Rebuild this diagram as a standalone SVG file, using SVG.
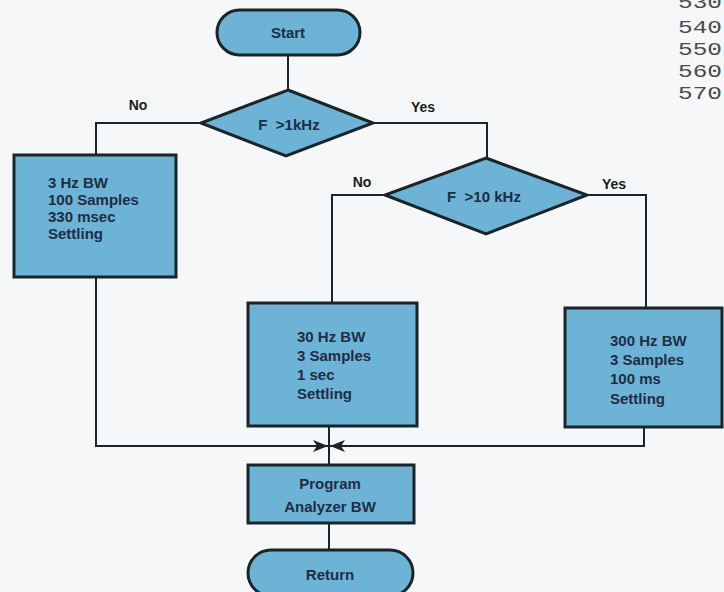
<svg xmlns="http://www.w3.org/2000/svg" width="724" height="592" viewBox="0 0 724 592">
<style>
.shape{fill:#6db3d5;stroke:#1b2529;stroke-width:3}
.conn{fill:none;stroke:#1b2529;stroke-width:2}
.t{font-family:"Liberation Sans",Arial,sans-serif;font-weight:bold;font-size:15px;fill:#1e2d45}
.c{text-anchor:middle}
.lbl{font-family:"Liberation Sans",Arial,sans-serif;font-weight:bold;font-size:14px;fill:#1b1b1b;text-anchor:middle}
.num{font-family:"Liberation Mono","DejaVu Sans Mono",monospace;font-size:19px;fill:#4a4a4a}
</style>
<defs>
<marker id="ah" markerUnits="userSpaceOnUse" markerWidth="16" markerHeight="12" refX="15" refY="6" orient="auto">
<path d="M0,0 L15,6 L0,12 L4,6 Z" fill="#1b2529"/>
</marker>
</defs>
<rect width="724" height="592" fill="#f5f7f9"/>
<g id="numbers">
<text class="num" x="678" y="8" textLength="44" lengthAdjust="spacingAndGlyphs">530</text>
<text class="num" x="678" y="33" textLength="44" lengthAdjust="spacingAndGlyphs">540</text>
<text class="num" x="678" y="55" textLength="44" lengthAdjust="spacingAndGlyphs">550</text>
<text class="num" x="678" y="77" textLength="44" lengthAdjust="spacingAndGlyphs">560</text>
<text class="num" x="678" y="99" textLength="44" lengthAdjust="spacingAndGlyphs">570</text>
</g>
<g id="connectors">
<path class="conn" d="M288,55 V90"/>
<path class="conn" d="M201,123 H96 V155"/>
<path class="conn" d="M373,123 H487 V158"/>
<path class="conn" d="M385,195 H332 V303"/>
<path class="conn" d="M587,195 H646 V308"/>
<path class="conn" d="M96,277 V446 H328" marker-end="url(#ah)"/>
<path class="conn" d="M644,427 V446 H330" marker-end="url(#ah)"/>
<path class="conn" d="M329,426 V465"/>
<path class="conn" d="M329,523 V550"/>
<text class="lbl" x="138" y="110">No</text>
<text class="lbl" x="423" y="112">Yes</text>
<text class="lbl" x="362" y="187">No</text>
<text class="lbl" x="614" y="189">Yes</text>
</g>
<g id="start">
<rect class="shape" x="217" y="10" width="143" height="45" rx="22.5"/>
<text class="t c" x="288" y="38">Start</text>
</g>
<g id="decision1">
<polygon class="shape" points="288,90 373,123 286,156 201,123"/>
<text class="t c" x="289" y="130" xml:space="preserve">F  &gt;1kHz</text>
</g>
<g id="box1">
<rect class="shape" x="14" y="155" width="162" height="122"/>
<text class="t" x="48" y="188">3 Hz BW</text>
<text class="t" x="48" y="205">100 Samples</text>
<text class="t" x="48" y="222">330 msec</text>
<text class="t" x="48" y="239">Settling</text>
</g>
<g id="decision2">
<polygon class="shape" points="486,158 587,195 486,234 385,195"/>
<text class="t c" x="484" y="202" xml:space="preserve">F  &gt;10 kHz</text>
</g>
<g id="box2">
<rect class="shape" x="248" y="303" width="169" height="123"/>
<text class="t" x="297" y="342">30 Hz BW</text>
<text class="t" x="297" y="361">3 Samples</text>
<text class="t" x="297" y="380">1 sec</text>
<text class="t" x="297" y="399">Settling</text>
</g>
<g id="box4">
<rect class="shape" x="565" y="308" width="157" height="119"/>
<text class="t" x="610" y="346">300 Hz BW</text>
<text class="t" x="610" y="365">3 Samples</text>
<text class="t" x="610" y="384">100 ms</text>
<text class="t" x="610" y="404">Settling</text>
</g>
<g id="box3">
<rect class="shape" x="248" y="465" width="166" height="58"/>
<text class="t c" x="330" y="489">Program</text>
<text class="t c" x="330" y="512">Analyzer BW</text>
</g>
<g id="return">
<rect class="shape" x="248" y="550" width="165" height="46" rx="23"/>
<text class="t c" x="330" y="580">Return</text>
</g>
</svg>
